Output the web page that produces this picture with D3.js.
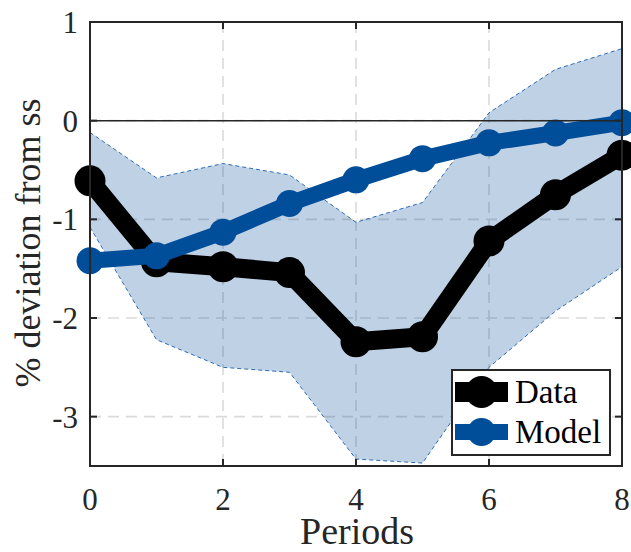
<!DOCTYPE html>
<html>
<head>
<meta charset="utf-8">
<script src="https://cdn.jsdelivr.net/npm/d3@7"></script>
</head>
<body style="margin:0">
<svg id="chart" width="631" height="552"></svg>
<script>
// Impulse response: empirical estimate vs. model, with confidence band
const periods   = [0, 1, 2, 3, 4, 5, 6, 7, 8];
const dataIRF   = [-0.61, -1.43, -1.48, -1.54, -2.24, -2.19, -1.22, -0.75, -0.35];
const modelIRF  = [-1.42, -1.37, -1.13, -0.84, -0.60, -0.385, -0.225, -0.125, -0.02];
const bandUpper = [-0.12, -0.58, -0.435, -0.55, -1.03, -0.83, 0.08, 0.52, 0.73];
const bandLower = [-1.08, -2.22, -2.50, -2.55, -3.43, -3.47, -2.50, -1.93, -1.48];

const xTicks = [0, 2, 4, 6, 8];
const yTicks = [-3, -2, -1, 0, 1];
const seriesNames = ["Data", "Model"];
const xLabel = "Periods";
const yLabel = "% deviation from ss";

const INK = "#262626";
const BLUE = "#004d99";

const svg = d3.select("#chart");
const W = 631, H = 552;
const plot = { left: 90, top: 22, right: 622, bottom: 466 };

function serif(sel, size) {
  return sel.style("font-family", "'Liberation Serif'").style("font-size", size + "px");
}

svg.append("rect").attr("width", W).attr("height", H).attr("fill", "#fff");

const x = d3.scaleLinear().domain([0, 8]).range([plot.left, plot.right]);
const y = d3.scaleLinear().domain([-3.5, 1]).range([plot.bottom, plot.top]);

// Text first
xTicks.forEach(v => {
  serif(svg.append("text"), 31)
    .attr("x", x(v)).attr("y", 510)
    .attr("text-anchor", "middle").attr("fill", INK)
    .text(String(v));
});
yTicks.forEach(v => {
  serif(svg.append("text"), 31)
    .attr("x", 78).attr("y", y(v) + 11)
    .attr("text-anchor", "end").attr("fill", INK)
    .text(String(v));
});
serif(svg.append("text"), 38)
  .attr("x", (plot.left + plot.right) / 2 + 1).attr("y", 544)
  .attr("text-anchor", "middle").attr("fill", INK)
  .text(xLabel);
serif(svg.append("text"), 36)
  .attr("transform", `translate(40,${(plot.top + plot.bottom) / 2 - 1}) rotate(-90)`)
  .attr("text-anchor", "middle").attr("fill", INK)
  .text(yLabel);

// Dashed grid
const grid = svg.append("g").attr("stroke", "#dadada")
  .attr("stroke-width", 1.6).attr("stroke-dasharray", "11,7");
grid.selectAll("line.gx").data(xTicks.filter(d => d > 0 && d < 8)).join("line")
  .attr("x1", d => x(d)).attr("x2", d => x(d))
  .attr("y1", plot.top).attr("y2", plot.bottom);
grid.selectAll("line.gy").data(yTicks.filter(d => d > -3.5 && d < 1)).join("line")
  .attr("x1", plot.left).attr("x2", plot.right)
  .attr("y1", d => y(d)).attr("y2", d => y(d));

// Confidence band
const bandData = periods.map((p, i) => ({ p, lo: bandLower[i], hi: bandUpper[i] }));
const bandG = svg.append("g");
bandG.append("path")
  .datum(bandData)
  .attr("d", d3.area().x(d => x(d.p)).y0(d => y(d.lo)).y1(d => y(d.hi)))
  .attr("fill", BLUE).attr("fill-opacity", 0.25);
[d => d.hi, d => d.lo].forEach(acc => {
  bandG.append("path")
    .datum(bandData)
    .attr("d", d3.line().x(d => x(d.p)).y(d => y(acc(d))))
    .attr("fill", "none").attr("stroke", "#2f6cb3")
    .attr("stroke-width", 1).attr("stroke-dasharray", "4,3");
});

// Series lines with markers
function drawSeries(values, color, width, r) {
  const pts = periods.map((p, i) => [x(p), y(values[i])]);
  svg.append("path")
    .attr("d", d3.line()(pts))
    .attr("fill", "none").attr("stroke", color)
    .attr("stroke-width", width).attr("stroke-linejoin", "round");
  svg.append("g").selectAll("circle").data(pts).join("circle")
    .attr("cx", d => d[0]).attr("cy", d => d[1]).attr("r", r)
    .attr("fill", color);
}
drawSeries(dataIRF, "#000", 19, 15.5);
drawSeries(modelIRF, BLUE, 16, 13.5);

// Zero reference line
svg.append("line")
  .attr("x1", plot.left).attr("x2", plot.right)
  .attr("y1", y(0)).attr("y2", y(0))
  .attr("stroke", INK).attr("stroke-width", 1.5);

// Axes box with inward ticks on all four sides
svg.append("rect")
  .attr("x", plot.left).attr("y", plot.top)
  .attr("width", plot.right - plot.left).attr("height", plot.bottom - plot.top)
  .attr("fill", "none").attr("stroke", INK).attr("stroke-width", 2);

const TICK = 7;
const ticks = svg.append("g").attr("stroke", INK).attr("stroke-width", 2);
xTicks.forEach(v => {
  ticks.append("line").attr("x1", x(v)).attr("x2", x(v))
    .attr("y1", plot.bottom).attr("y2", plot.bottom - TICK);
  ticks.append("line").attr("x1", x(v)).attr("x2", x(v))
    .attr("y1", plot.top).attr("y2", plot.top + TICK);
});
yTicks.forEach(v => {
  ticks.append("line").attr("y1", y(v)).attr("y2", y(v))
    .attr("x1", plot.left).attr("x2", plot.left + TICK);
  ticks.append("line").attr("y1", y(v)).attr("y2", y(v))
    .attr("x1", plot.right).attr("x2", plot.right - TICK);
});

// Legend
const legend = svg.append("g");
legend.append("rect")
  .attr("x", 452).attr("y", 370).attr("width", 158).attr("height", 85)
  .attr("fill", "#fff").attr("stroke", INK).attr("stroke-width", 2);
const legendItems = [
  { name: seriesNames[0], color: "#000", w: 20, r: 16, cy: 392 },
  { name: seriesNames[1], color: BLUE,   w: 16, r: 14, cy: 432 }
];
legendItems.forEach(it => {
  legend.append("line")
    .attr("x1", 455).attr("x2", 508).attr("y1", it.cy).attr("y2", it.cy)
    .attr("stroke", it.color).attr("stroke-width", it.w);
  legend.append("circle").attr("cx", 481.5).attr("cy", it.cy).attr("r", it.r)
    .attr("fill", it.color);
  serif(legend.append("text"), 33)
    .attr("x", 515).attr("y", it.cy + 11).attr("fill", "#000")
    .text(it.name);
});
</script>
</body>
</html>
